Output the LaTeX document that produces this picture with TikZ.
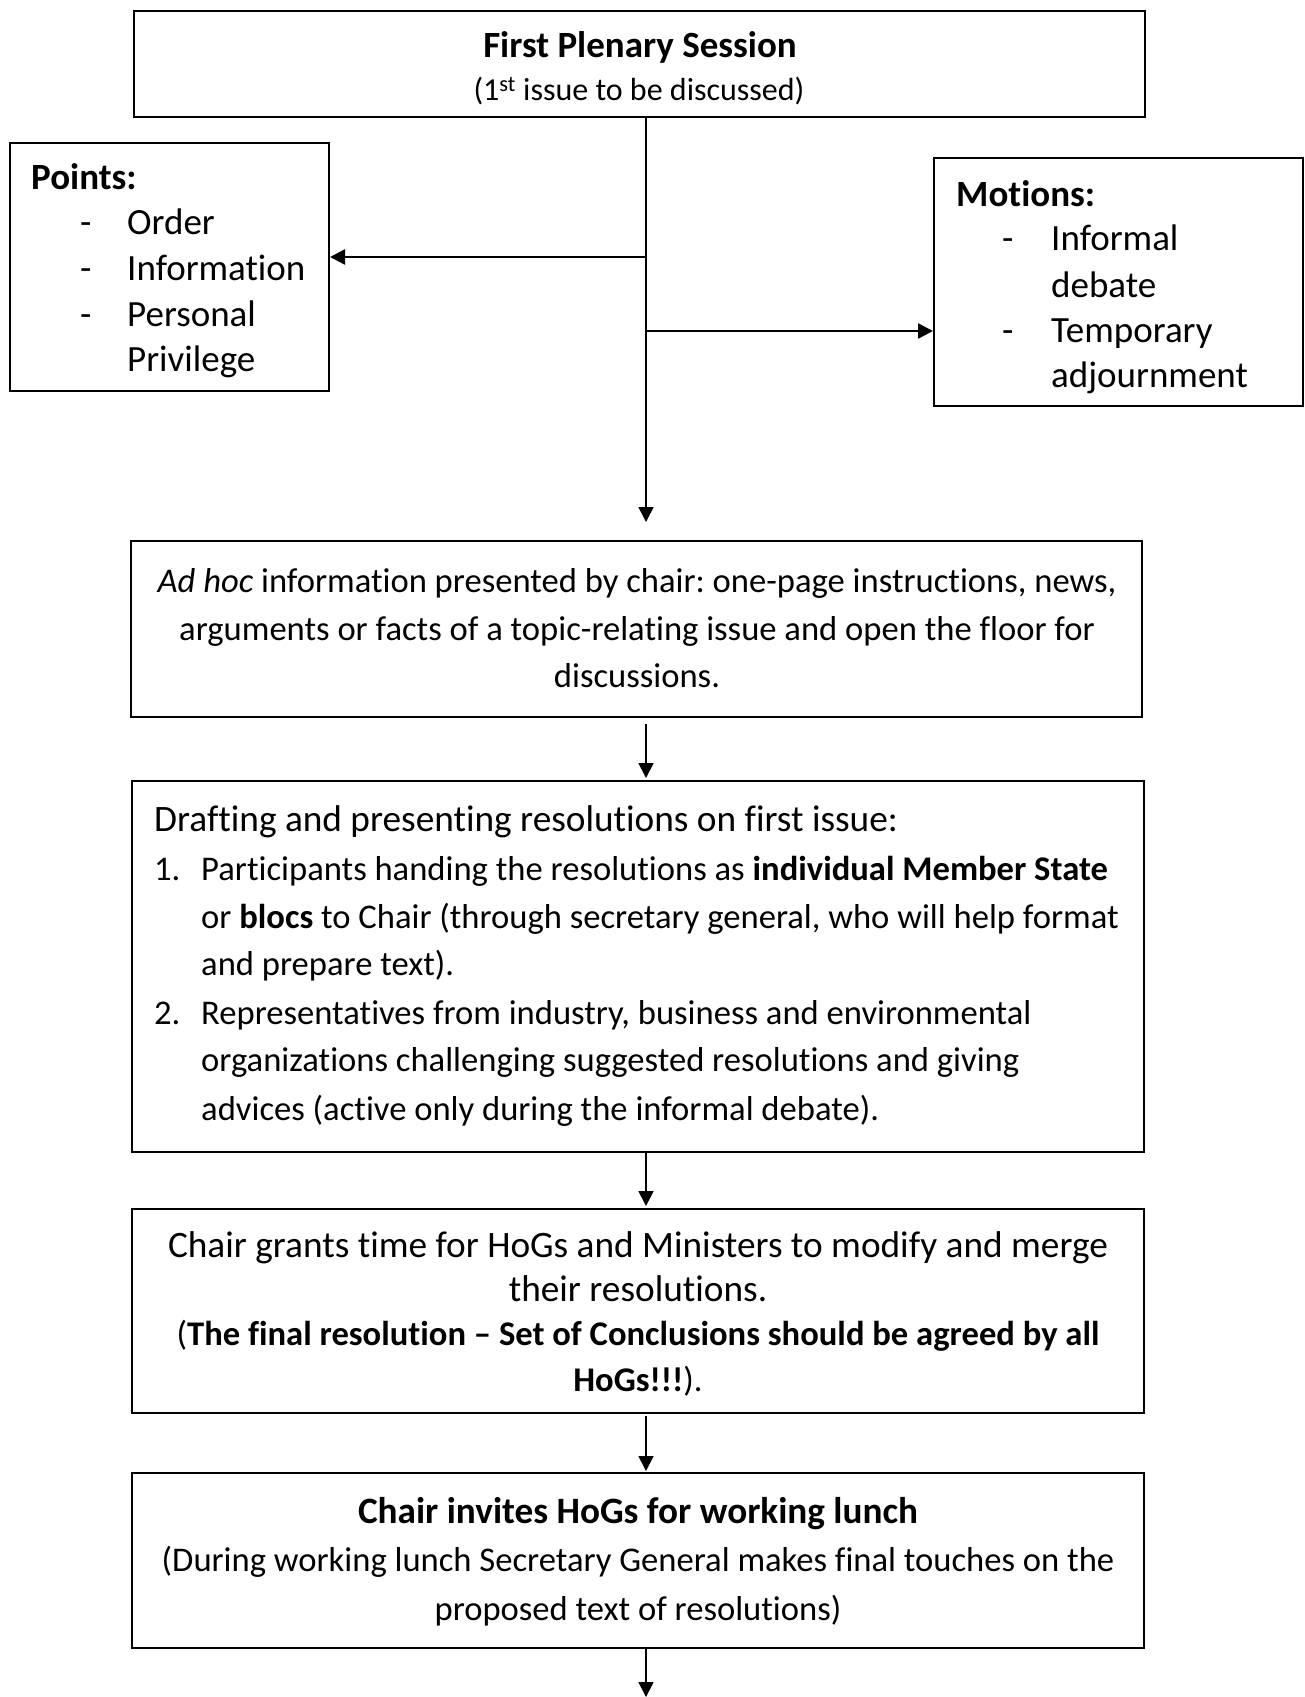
\documentclass[tikz,border=0pt]{standalone}
\usepackage{fontspec}
\setmainfont{Carlito}[Ligatures={NoCommon}]
\usetikzlibrary{arrows.meta}
\begin{document}
\frenchspacing
\begin{tikzpicture}[x=1pt,y=-1pt,
  box/.style={draw=black, line width=2pt, inner sep=0pt},
  conn/.style={line width=1.7pt, -{Triangle[length=15pt,width=15pt]}},
  fs/.style={font=\frenchspacing\fontsize{#1}{#1}\selectfont},
  lc/.style={inner sep=0pt, anchor=mid, yshift=-10pt},
  ll/.style={inner sep=0pt, anchor=mid west, yshift=-10pt},
]
\useasboundingbox (0,0) rectangle (1304,1697);
\fill[white] (0,0) rectangle (1304,1697);

% boxes
\node[box, minimum width=1011pt, minimum height=106pt] (b1) at (639.5,64) {};
\node[box, minimum width=319pt, minimum height=248pt] (pts) at (169.5,267) {};
\node[box, minimum width=369pt, minimum height=248pt] (mot) at (1118.5,282) {};
\node[box, minimum width=1011pt, minimum height=176pt] (b2) at (636.5,629) {};
\node[box, minimum width=1012pt, minimum height=371pt] (b3) at (638,966.5) {};
\node[box, minimum width=1012pt, minimum height=204pt] (b4) at (638,1311) {};
\node[box, minimum width=1012pt, minimum height=175pt] (b5) at (638,1560.5) {};

% spine and junctions
\coordinate (spine) at (646,0);
\coordinate (jl) at (646,257);
\coordinate (jr) at (646,331);
\coordinate (bend) at (646,1697);

% box 1 text
\node[lc, fs=37] (t1a) at (640,45) {\bfseries First Plenary Session};
\node[lc, fs=32] (t1b) at (639,88) {(1\textsuperscript{st} issue to be discussed)};

% points
\node[ll, fs=37] (p0) at (31,177) {\bfseries Points:};
\node[ll, fs=37] (pd1) at (80,222) {-};
\node[ll, fs=37] (pd2) at (80,268) {-};
\node[ll, fs=37] (pd3) at (80,314) {-};
\node[ll, fs=37] (p1) at (127,222) {Order};
\node[ll, fs=37] (p2) at (127,268) {Information};
\node[ll, fs=37] (p3) at (127,314) {Personal};
\node[ll, fs=37] (p4) at (127,359) {Privilege};

% motions
\node[ll, fs=37] (m0) at (956,194) {\bfseries Motions:};
\node[ll, fs=37] (md1) at (1002,238) {-};
\node[ll, fs=37] (md2) at (1002,330) {-};
\node[ll, fs=37] (m1) at (1051,238) {Informal};
\node[ll, fs=37] (m2) at (1051,285) {debate};
\node[ll, fs=37] (m3) at (1051,330) {Temporary};
\node[ll, fs=37] (m4) at (1051,375) {adjournment};

% box 2 text
\node[lc, fs=34.6] (t2a) at (637,580) {\textit{Ad hoc} information presented by chair: one-page instructions, news,};
\node[lc, fs=34.6] (t2b) at (637,628) {arguments or facts of a topic-relating issue and open the floor for};
\node[lc, fs=34.6] (t2c) at (637,675) {discussions.};

% box 3 text
\node[ll, fs=37.3] (t3h) at (154,819) {Drafting and presenting resolutions on first issue:};
\node[ll, fs=34.6] (n31) at (154,868) {1.};
\node[ll, fs=34.6] (t3a) at (201,868) {Participants handing the resolutions as \textbf{individual Member State}};
\node[ll, fs=34.6] (t3b) at (201,916) {or \textbf{blocs} to Chair (through secretary general, who will help format};
\node[ll, fs=34.6] (t3c) at (201,963) {and prepare text).};
\node[ll, fs=34.6] (n32) at (154,1012) {2.};
\node[ll, fs=34.6] (t3d) at (201,1012) {Representatives from industry, business and environmental};
\node[ll, fs=34.6] (t3e) at (201,1059) {organizations challenging suggested resolutions and giving};
\node[ll, fs=34.6] (t3f) at (201,1108) {advices (active only during the informal debate).};

% box 4 text
\node[lc, fs=37.3] (t4a) at (638,1245) {Chair grants time for HoGs and Ministers to modify and merge};
\node[lc, fs=37.3] (t4b) at (638,1289) {their resolutions.};
\node[lc, fs=34.6] (t4c) at (638,1333) {(\textbf{The final resolution – Set of Conclusions should be agreed by all}};
\node[lc, fs=34.6] (t4d) at (638,1379) {\textbf{HoGs!!!}).};

% box 5 text
\node[lc, fs=37.2] (t5a) at (638,1511) {\bfseries Chair invites HoGs for working lunch};
\node[lc, fs=34.6] (t5b) at (638,1559) {(During working lunch Secretary General makes final touches on the};
\node[lc, fs=34.6] (t5c) at (638,1608) {proposed text of resolutions)};

% connectors
\draw[conn, shorten >=18pt] (b1.south -| spine) -- (b2.north -| spine);
\draw[conn, line width=2.4pt] (jl) -- (pts.east |- jl);
\draw[conn, line width=2.4pt] (jr) -- (mot.west |- jr);
\draw[conn, shorten <=6pt, shorten >=2pt] (b2.south -| spine) -- (b3.north -| spine);
\draw[conn, shorten >=2pt] (b3.south -| spine) -- (b4.north -| spine);
\draw[conn, shorten <=2pt, shorten >=1pt] (b4.south -| spine) -- (b5.north -| spine);
\draw[conn] (b5.south -| spine) -- (bend);
\end{tikzpicture}
\end{document}
